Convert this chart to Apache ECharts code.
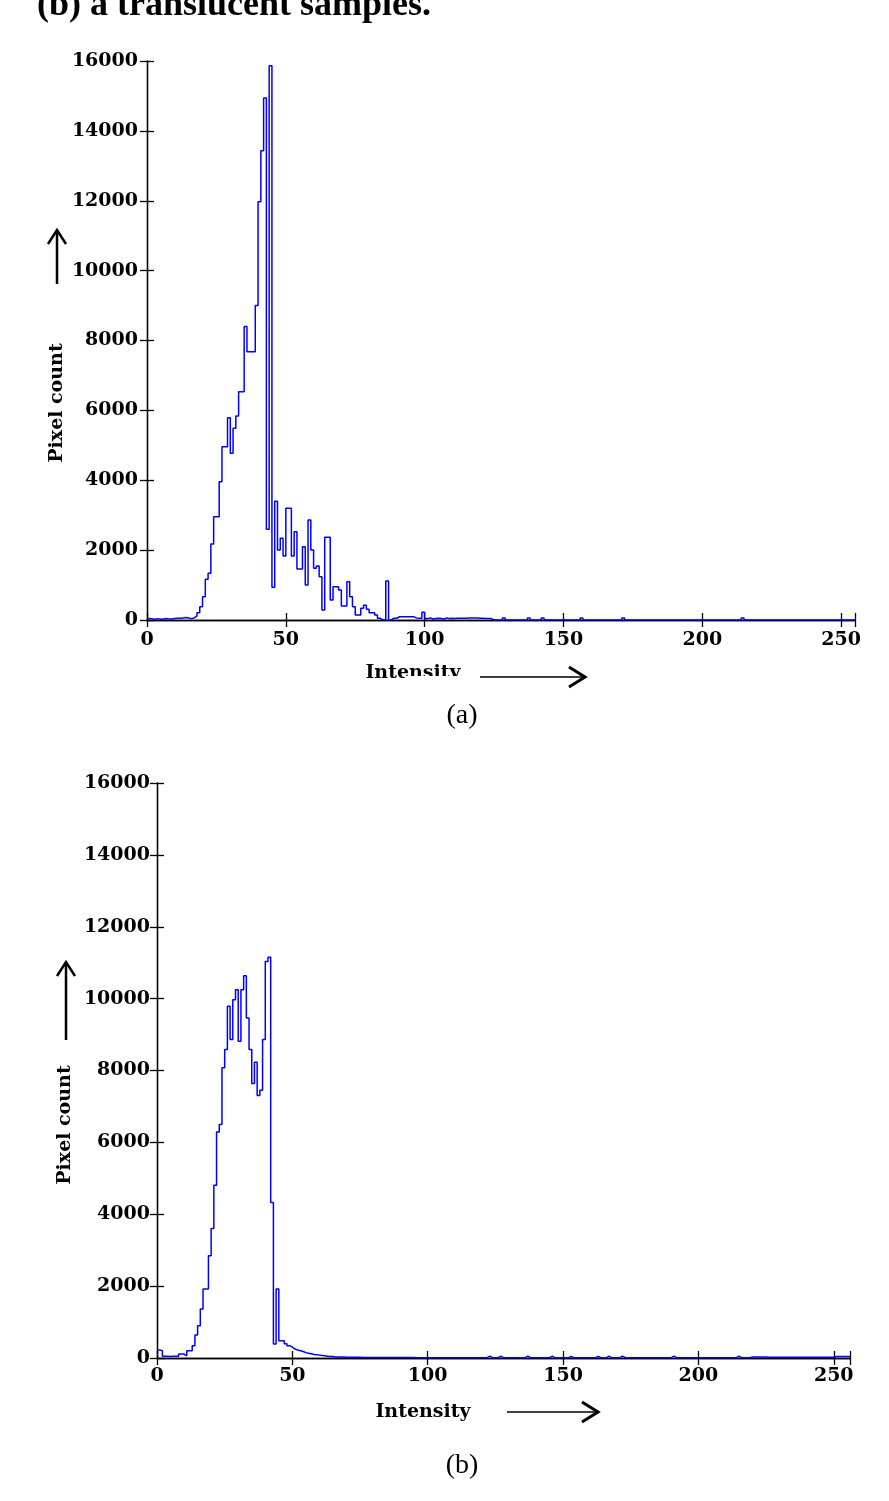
<!DOCTYPE html>
<html><head><meta charset="utf-8">
<script src="https://cdn.jsdelivr.net/npm/echarts@6/dist/echarts.min.js"></script>
<style>html,body{margin:0;padding:0;background:#fff}#c{width:889px;height:1501px}</style>
</head><body><div id="c"></div>
<script>
// Histogram (a): pixel count per intensity 0..255
const countsA = [
  40,30,20,40,20,30,40,30,30,40,
  50,50,60,70,60,40,60,115,210,380,
  667,1165,1336,2175,2957,2957,3958,4960,4960,5790,
  4770,5486,5838,6535,6535,8400,7680,7680,7680,9000,
  11970,13430,14940,2600,15866,935,3400,2003,2338,1832,
  3197,3197,1832,2528,1460,1460,2098,1002,2862,2003,
  1479,1545,1240,286,2366,2366,572,954,954,859,
  400,400,1097,668,382,143,143,334,420,305,
  210,210,143,48,0,0,1116,0,50,50,
  95,95,95,95,95,95,60,50,50,220,
  40,60,30,40,50,40,30,60,40,50,
  40,50,50,50,50,60,60,60,60,50,
  50,40,40,40,0,0,0,0,60,0,
  0,0,0,0,0,0,0,60,0,0,
  0,0,60,0,0,0,0,0,0,0,
  0,0,0,0,0,0,60,0,0,0,
  0,0,0,0,0,0,0,0,0,0,
  0,60,0,0,0,0,0,0,0,0,
  0,0,0,0,0,0,0,0,0,0,
  0,0,0,0,0,0,0,0,0,0,
  0,0,0,0,0,0,0,0,0,0,
  0,0,0,0,60,0,0,0,0,0,
  0,0,0,0,0,0,0,0,0,0,
  0,0,0,0,0,0,0,0,0,0,
  0,0,0,0,0,0,0,0,0,0,
  0,0,0,0,0,0
];
// Histogram (b): pixel count per intensity 0..256
const countsB = [
  220,203,47,47,40,47,50,47,111,111,
  60,203,203,342,639,897,1361,1917,1917,2842,
  3603,4806,6287,6500,8075,8583,9786,8861,9972,10250,
  8814,10250,10639,9463,8583,7639,8231,7306,7453,8861,
  11036,11150,4325,389,1917,481,481,400,342,300,
  250,220,200,180,150,130,120,100,90,80,
  70,60,50,40,40,30,30,25,25,20,
  20,20,20,20,20,15,15,15,15,15,
  15,15,15,15,15,15,15,15,15,15,
  15,15,15,15,15,10,10,10,10,10,
  10,10,10,10,10,10,10,10,10,10,
  10,10,10,10,10,10,10,10,10,10,
  10,10,50,10,10,10,50,10,10,10,
  10,10,10,10,10,10,50,10,10,10,
  10,10,10,10,10,50,10,10,10,10,
  10,10,40,10,10,10,10,10,10,10,
  10,10,40,10,10,10,50,10,10,10,
  10,50,10,10,10,10,10,10,10,10,
  10,10,10,10,10,10,10,10,10,10,
  50,10,10,10,10,10,10,10,10,10,
  10,10,10,10,10,10,10,10,10,10,
  10,10,10,10,50,10,10,10,10,30,
  30,30,30,30,30,20,20,20,20,20,
  20,20,20,20,20,20,20,20,20,20,
  20,20,20,20,20,20,20,20,20,20,
  40,40,40,40,40,40,40
];
const xTickStep = 50;
const yTickStep = 2000;
const yMax = 16000;
const xMaxA = 255;
const xMaxB = 256;
const yLabel = 'Pixel count';
const xLabel = 'Intensity';
const captions = ['(a)', '(b)'];
const heading = '(b) a translucent samples.';

const chart = echarts.init(document.getElementById('c'), null, {renderer: 'canvas'});
const lblFont = {fontFamily: 'DejaVu Serif', fontWeight: 'bold', fontSize: 19, color: '#000'};
const nameFont = 'bold 19px "DejaVu Serif"';
const axLine = {show: true, lineStyle: {color: '#000', width: 1.3}};
const tick = {show: true, inside: true, length: 7, lineStyle: {color: '#000', width: 1.3}};

function xAxes(gi, max, margin) {
  return [
    {gridIndex: gi, type: 'value', min: 0, max: max, interval: xTickStep, position: 'bottom',
     axisLine: axLine, axisTick: tick, splitLine: {show: false},
     axisLabel: Object.assign({margin: margin, formatter: v => (v % xTickStep === 0 ? String(v) : '')}, lblFont)},
    {gridIndex: gi, type: 'value', min: 0, max: max, interval: xTickStep, position: 'top',
     axisLine: axLine, axisTick: tick, splitLine: {show: false}, axisLabel: {show: false}}
  ];
}
function yAxes(gi, margin) {
  return [
    {gridIndex: gi, type: 'value', min: 0, max: yMax, interval: yTickStep, position: 'left',
     axisLine: axLine, axisTick: tick, splitLine: {show: false},
     axisLabel: Object.assign({margin: margin, formatter: v => String(v)}, lblFont)},
    {gridIndex: gi, type: 'value', min: 0, max: yMax, interval: yTickStep, position: 'right',
     axisLine: axLine, axisTick: tick, splitLine: {show: false}, axisLabel: {show: false}}
  ];
}

function arrowUp(x, y1, y2) {
  return [
    {type: 'line', shape: {x1: x, y1: y1, x2: x, y2: y2}, style: {stroke: '#000', lineWidth: 2.5}},
    {type: 'polyline', shape: {points: [[x - 9, y2 + 14], [x, y2], [x + 9, y2 + 14]]}, style: {stroke: '#000', lineWidth: 2.5, fill: null}}
  ];
}
function arrowRight(x1, x2, y) {
  return [
    {type: 'line', shape: {x1: x1, y1: y, x2: x2, y2: y}, style: {stroke: '#000', lineWidth: 1.5}},
    {type: 'polyline', shape: {points: [[x2 - 16, y - 10], [x2, y], [x2 - 16, y + 10]]}, style: {stroke: '#000', lineWidth: 3, fill: null}}
  ];
}
function txt(s, x, y, font, opts) {
  return Object.assign({type: 'text', x: x, y: y, style: {text: s, font: font, fill: '#000', textAlign: 'center', textVerticalAlign: 'middle'}}, opts || {});
}

const option = {
  backgroundColor: '#fff',
  animation: false,
  grid: [
    {left: 147, top: 61, width: 708, height: 559},
    {left: 157, top: 783, width: 693, height: 575}
  ],
  xAxis: [].concat(xAxes(0, xMaxA, 11), xAxes(1, xMaxB, 9)),
  yAxis: [].concat(yAxes(0, 9), yAxes(1, 7)),
  series: [
    {type: 'line', xAxisIndex: 0, yAxisIndex: 0, step: 'end', showSymbol: false,
     lineStyle: {color: '#0000ff', width: 1.5}, data: countsA.map((c, i) => [i, c])},
    {type: 'line', xAxisIndex: 2, yAxisIndex: 2, step: 'end', showSymbol: false,
     lineStyle: {color: '#0000ff', width: 1.5}, data: countsB.map((c, i) => [i, c])}
  ],
  graphic: [].concat(
    [{type: 'text', x: 37, y: 24, style: {text: heading, font: 'bold 36px "Liberation Serif"', fill: '#000', textAlign: 'left', textVerticalAlign: 'bottom'}}],
    [txt(yLabel, 57, 403, nameFont, {rotation: Math.PI / 2})],
    arrowUp(57, 284, 230),
    [txt(xLabel, 413, 673, nameFont)],
    [{type: 'rect', shape: {x: 405, y: 676, width: 62, height: 14}, style: {fill: '#fff'}}],
    arrowRight(480, 585, 677),
    [txt(captions[0], 462, 716, '28px "Liberation Serif"')],
    [txt(yLabel, 65, 1125, nameFont, {rotation: Math.PI / 2})],
    arrowUp(66, 1040, 962),
    [txt(xLabel, 423, 1412, nameFont)],
    arrowRight(507, 598, 1412),
    [txt(captions[1], 462, 1466, '28px "Liberation Serif"')]
  )
};
chart.setOption(option);
</script></body></html>
